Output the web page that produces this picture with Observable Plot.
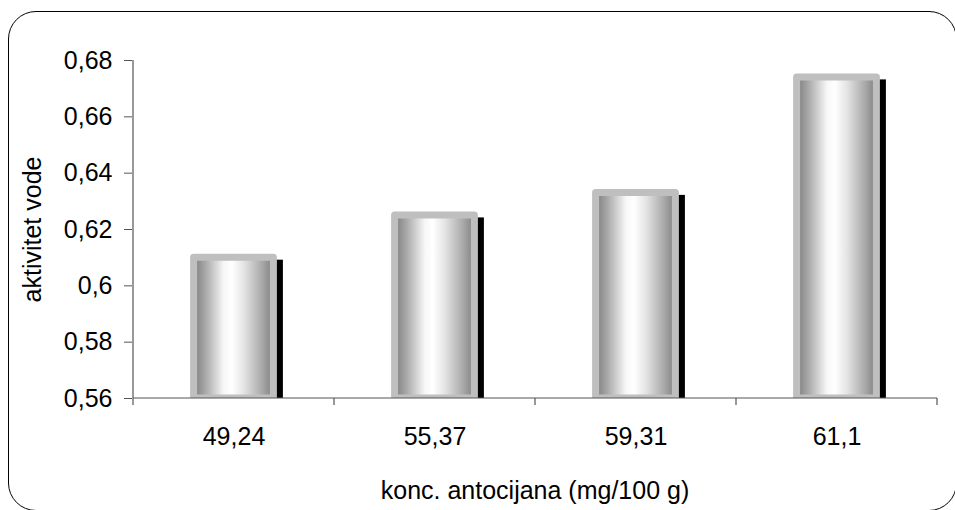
<!DOCTYPE html>
<html><head><meta charset="utf-8">
<script src="https://cdn.jsdelivr.net/npm/d3@7"></script>
<script src="https://cdn.jsdelivr.net/npm/@observablehq/plot@0.6"></script>
<style>
body{margin:0;background:#fff;}
#wrap{position:relative;width:955px;height:510px;overflow:hidden;background:#fff;}
#border{position:absolute;left:8px;top:11px;width:949px;height:500px;border:1.6px solid #000;border-radius:28px;box-sizing:border-box;}
#chart{position:absolute;left:0;top:0;}
</style></head><body>
<div id="wrap"><div id="border"></div><div id="chart"></div></div>
<script>
const categories = ["49,24", "55,37", "59,31", "61,1"];
const values = [0.610, 0.625, 0.633, 0.674];
const yTicks = [0.56, 0.58, 0.60, 0.62, 0.64, 0.66, 0.68];
const xLabel = "konc. antocijana (mg/100 g)";
const yLabel = "aktivitet vode";

const data = categories.map((c, i) => ({cat: c, v: values[i]}));
const base = yTicks[0];
const fmt = d => String(+d.toFixed(2)).replace(".", ",");

function axisLines(index, scales, values, dims) {
  const g = d3.create("svg:g").attr("stroke", "#555").attr("stroke-width", 1.2);
  const x = scales.x, y = scales.y, bw = x.bandwidth();
  const y0 = y(base);
  const xl = x(categories[0]);
  const xr = x(categories[categories.length - 1]) + bw;
  g.append("line").attr("x1", xl).attr("x2", xl).attr("y1", y(yTicks[yTicks.length - 1])).attr("y2", y0 + 7);
  g.append("line").attr("x1", xl).attr("x2", xr).attr("y1", y0).attr("y2", y0);
  for (const c of categories) {
    const xx = x(c) + bw;
    g.append("line").attr("x1", xx).attr("x2", xx).attr("y1", y0).attr("y2", y0 + 7);
  }
  return g.node();
}

const plot = Plot.plot({
  width: 955, height: 510,
  marginLeft: 132, marginRight: 18, marginTop: 60, marginBottom: 112,
  style: {fontFamily: "'Liberation Sans', Arial, sans-serif", fontSize: "25px", color: "#000", background: "transparent"},
  x: {domain: categories, padding: 0},
  y: {domain: [yTicks[0], yTicks[yTicks.length - 1]]},
  marks: [
    Plot.barY(data, {x: "cat", y1: base, y2: "v", fill: "#000", dx: 6, insetLeft: 57.1, insetRight: 57.1, insetTop: 2.5, clip: true}),
    Plot.barY(data, {x: "cat", y1: base, y2: "v", fill: "url(#cyl)", stroke: "#bfbfbf", strokeWidth: 7, strokeLinejoin: "round", insetLeft: 60.6, insetRight: 60.6, clip: true}),
    Plot.axisY({ticks: yTicks, tickSize: 8, tickPadding: 12, tickFormat: fmt, label: null, stroke: "#555"}),
    Plot.axisX({tickSize: 0, tickPadding: 29, label: null}),
    axisLines,
    Plot.text([yLabel], {text: d => d, frameAnchor: "left", dx: -100, rotate: -90, textAnchor: "middle", lineAnchor: "middle"}),
    Plot.text([xLabel], {text: d => d, frameAnchor: "bottom", dy: 92, textAnchor: "middle", lineAnchor: "middle"})
  ]
});

const defs = d3.create("svg:defs");
const grad = defs.append("linearGradient").attr("id", "cyl").attr("x1", "0").attr("x2", "1").attr("y1", "0").attr("y2", "0");
[["0%", "#7c7c7c"], ["15%", "#a9a9a9"], ["38%", "#f7f7f7"], ["48%", "#ffffff"], ["63%", "#e4e4e4"], ["85%", "#ababab"], ["100%", "#7f7f7f"]]
  .forEach(([o, c]) => grad.append("stop").attr("offset", o).attr("stop-color", c));
plot.insertBefore(defs.node(), plot.firstChild);
document.getElementById("chart").appendChild(plot);
</script>
</body></html>
